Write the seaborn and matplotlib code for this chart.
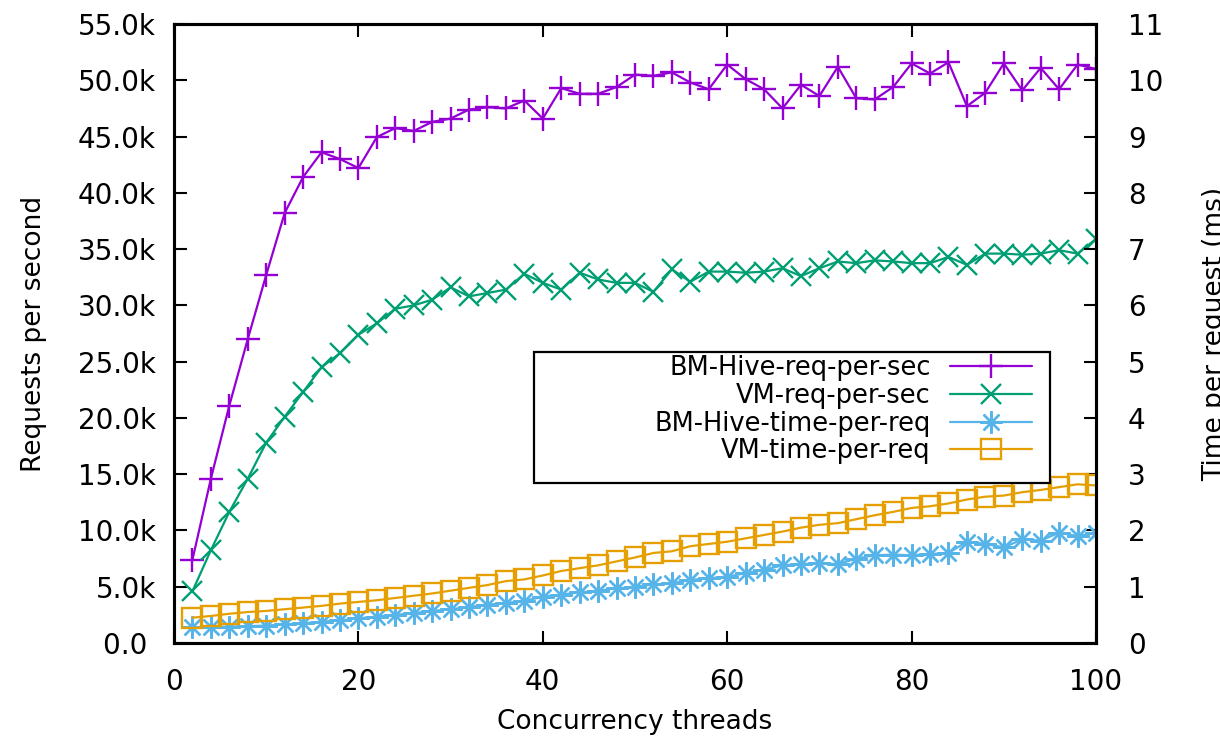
import matplotlib
matplotlib.use("Agg")
import matplotlib.pyplot as plt
from matplotlib.patches import Rectangle
import seaborn as sns

sns.set_style("white")
plt.rcParams['font.family'] = ['DejaVu Sans']
plt.rcParams['text.color'] = 'black'
plt.rcParams['axes.labelcolor'] = 'black'

threads = [2, 4, 6, 8, 10, 12, 14, 16, 18, 20, 22, 24, 26, 28, 30, 32, 34, 36, 38, 40,
           42, 44, 46, 48, 50, 52, 54, 56, 58, 60, 62, 64, 66, 68, 70, 72, 74, 76, 78, 80,
           82, 84, 86, 88, 90, 92, 94, 96, 98, 100]

bm_req = [7400, 14600, 21100, 27000, 32700, 38200, 41400, 43600, 43000, 42200,
          44950, 45750, 45500, 46300, 46600, 47400, 47600, 47500, 48200, 46600,
          49300, 48800, 48800, 49400, 50500, 50400, 50700, 49800, 49200, 51400,
          50100, 49200, 47500, 49600, 48600, 51200, 48400, 48300, 49400, 51500,
          50600, 51600, 47700, 48900, 51500, 49100, 51100, 49200, 51400, 51000]

vm_req = [4600, 8250, 11650, 14600, 17800, 20100, 22300, 24500, 25750, 27400,
          28400, 29700, 30000, 30500, 31600, 30800, 31100, 31400, 32800, 32000,
          31400, 32900, 32300, 32000, 32000, 31200, 33200, 32100, 33000, 33000,
          32900, 33000, 33300, 32600, 33300, 33900, 33750, 34000, 33900, 33750,
          33750, 34300, 33600, 34600, 34600, 34500, 34600, 34900, 34600, 35900]

bm_time = [0.28, 0.28, 0.29, 0.30, 0.31, 0.33, 0.35, 0.38, 0.40, 0.44,
           0.47, 0.50, 0.53, 0.57, 0.60, 0.64, 0.68, 0.71, 0.75, 0.82,
           0.86, 0.90, 0.93, 0.97, 1.00, 1.04, 1.06, 1.12, 1.15, 1.18,
           1.24, 1.30, 1.38, 1.40, 1.42, 1.40, 1.50, 1.56, 1.57, 1.56,
           1.58, 1.60, 1.80, 1.76, 1.70, 1.84, 1.82, 1.96, 1.90, 1.96]

vm_time = [0.45, 0.48, 0.52, 0.55, 0.57, 0.60, 0.63, 0.66, 0.70, 0.73,
           0.76, 0.80, 0.84, 0.88, 0.93, 0.98, 1.03, 1.10, 1.13, 1.20,
           1.28, 1.33, 1.38, 1.45, 1.52, 1.60, 1.63, 1.72, 1.76, 1.80,
           1.86, 1.92, 1.98, 2.05, 2.10, 2.13, 2.20, 2.27, 2.33, 2.40,
           2.43, 2.48, 2.55, 2.60, 2.62, 2.68, 2.72, 2.77, 2.82, 2.80]

series_names = ["BM-Hive-req-per-sec", "VM-req-per-sec",
                "BM-Hive-time-per-req", "VM-time-per-req"]

x_ticks = [0, 20, 40, 60, 80, 100]
left_ticks = [0, 5000, 10000, 15000, 20000, 25000, 30000, 35000, 40000, 45000, 50000, 55000]
left_tick_labels = ["0.0 ", "5.0k", "10.0k", "15.0k", "20.0k", "25.0k", "30.0k",
                    "35.0k", "40.0k", "45.0k", "50.0k", "55.0k"]
right_ticks = [0, 1, 2, 3, 4, 5, 6, 7, 8, 9, 10, 11]

FS = 19
TFS = 20
W, H = 1220, 750
fig = plt.figure(figsize=(W / 100, H / 100), dpi=100)
L, R, T, B = 174, 1096, 24, 643
ax = fig.add_axes([L / W, 1 - B / H, (R - L) / W, (B - T) / H])
ax2 = ax.twinx()

lw = 1.6
mew = 1.7
c1, c2, c3, c4 = "#9400D3", "#009E73", "#56B4E9", "#E69F00"
sns.lineplot(x=threads, y=bm_req, ax=ax, color=c1, marker="+", markersize=17,
             markeredgewidth=mew, markeredgecolor=c1, linewidth=lw,
             label=series_names[0], legend=False)
sns.lineplot(x=threads, y=vm_req, ax=ax, color=c2, marker="x", markersize=14,
             markeredgewidth=mew, markeredgecolor=c2, linewidth=lw,
             label=series_names[1], legend=False)
sns.lineplot(x=threads, y=bm_time, ax=ax2, color=c3, marker=(8, 2, 0), markersize=16,
             markeredgewidth=mew, markeredgecolor=c3, linewidth=lw,
             label=series_names[2], legend=False)
sns.lineplot(x=threads, y=vm_time, ax=ax2, color=c4, marker="s", markersize=15,
             markerfacecolor="none", markeredgecolor=c4, markeredgewidth=mew,
             linewidth=lw, label=series_names[3], legend=False)

ax.set_xlim(0, 100)
ax.set_ylim(0, 55000)
ax2.set_ylim(0, 11)
ax.set_xticks(x_ticks)
ax.set_xticklabels([str(v) for v in x_ticks])
ax.set_yticks(left_ticks)
ax.set_yticklabels(left_tick_labels)
ax2.set_yticks(right_ticks)
ax2.set_yticklabels([str(v) for v in right_ticks])

ax.tick_params(axis='x', direction='in', top=True, bottom=True, length=9, width=1.5,
               pad=18, labelsize=TFS, colors='black')
ax.tick_params(axis='y', direction='in', left=True, right=False, length=9, width=1.5,
               pad=13, labelsize=TFS, colors='black')
ax2.tick_params(axis='y', direction='in', right=True, left=False, length=9, width=1.5,
                pad=23, labelsize=TFS, colors='black')
ax.tick_params(axis='x', labeltop=False)

for a in (ax, ax2):
    for s in a.spines.values():
        s.set_linewidth(2.2)
        s.set_color('black')
        s.set_visible(True)

ax.set_xlabel("Concurrency threads", fontsize=FS)
ax.set_ylabel("Requests per second", fontsize=FS)
ax2.set_ylabel("Time per request (ms)", fontsize=FS)
ax.xaxis.set_label_coords(0.5, -(709 - B) / (B - T))
ax.yaxis.set_label_coords((47 - L) / (R - L), 0.5)
ax2.yaxis.set_label_coords((1202 - L) / (R - L), 0.5)

# legend box (gnuplot style, wide left margin)
box = Rectangle((534 / W, 1 - 483 / H), (1050 - 534) / W, (483 - 352) / H,
                transform=fig.transFigure, facecolor='white', edgecolor='black',
                linewidth=1.6, zorder=4, clip_on=False)
ax2.add_artist(box)

handles = ax.get_lines() + ax2.get_lines()
leg = ax2.legend(handles, series_names, loc='upper right',
                 bbox_to_anchor=((1032 - L) / (R - L), (B - 355) / (B - T)),
                 borderaxespad=0, fontsize=18.5, markerfirst=False, handlelength=3.2,
                 handletextpad=0.75, labelspacing=0.07, borderpad=0.0,
                 frameon=False)
leg.set_zorder(5)

fig.savefig("out.png", dpi=100)
